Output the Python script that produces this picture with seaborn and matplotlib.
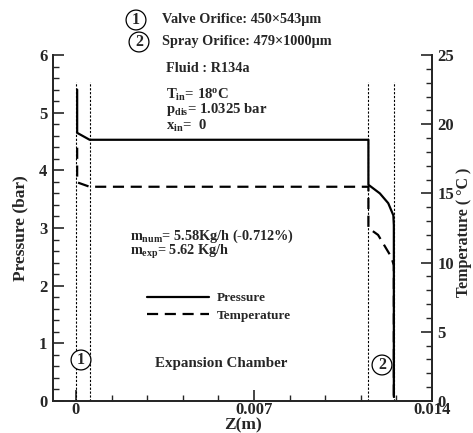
import matplotlib
matplotlib.use("Agg")
import matplotlib.pyplot as plt
import seaborn as sns
from matplotlib.lines import Line2D
from matplotlib.ticker import MultipleLocator, FuncFormatter

# Pressure along the nozzle (bar)
z_pressure = [0.00005, 0.00005, 0.00054, 0.0115, 0.0115, 0.01195, 0.01228, 0.01248, 0.0125, 0.0125]
pressure = [5.40, 4.65, 4.53, 4.53, 3.75, 3.60, 3.43, 3.22, 3.05, 0.07]

# Temperature along the nozzle (deg C)
z_temp = [0.00005, 0.00005, 0.00054, 0.0115, 0.0115, 0.01188, 0.0124, 0.0125, 0.0125]
temperature = [18.3, 15.8, 15.48, 15.48, 12.5, 12.0, 10.4, 9.8, 0.3]

# orifice boundaries (m)
boundaries = [0.0, 0.00054, 0.0115, 0.0125]
boundary_top = 5.53

W, H = 473, 433


def px(x, y):
    return x / W, 1 - y / H


def main() -> None:
    sns.set_style("ticks")
    plt.rcParams["font.family"] = ["Liberation Serif", "DejaVu Serif"]
    plt.rcParams["font.weight"] = "bold"
    plt.rcParams["axes.labelweight"] = "bold"
    plt.rcParams["mathtext.fontset"] = "custom"
    plt.rcParams["mathtext.rm"] = "Liberation Serif:bold"
    plt.rcParams["mathtext.it"] = "Liberation Serif:bold"
    plt.rcParams["mathtext.bf"] = "Liberation Serif:bold"

    fig = plt.figure(figsize=(W / 100, H / 100), dpi=100)
    ax = fig.add_axes([53 / W, 1 - 401 / H, (432 - 53) / W, (401 - 55) / H])
    ax2 = ax.twinx()

    for zb in boundaries:
        ax.plot([zb, zb], [0, boundary_top], color="black", lw=0.8, linestyle=(0, (2, 1.5)))

    sns.lineplot(x=z_pressure, y=pressure, ax=ax, sort=False, estimator=None,
                 color="black", lw=1.6)
    sns.lineplot(x=z_temp, y=temperature, ax=ax2, sort=False, estimator=None,
                 color="black", lw=1.6, linestyle=(0, (5, 3)))

    ax.set_xlim(-0.0009, 0.014)
    ax.set_ylim(0, 6)
    ax2.set_ylim(0, 25)

    ax.xaxis.set_major_locator(MultipleLocator(0.007))
    ax.xaxis.set_minor_locator(MultipleLocator(0.0014))
    ax.xaxis.set_major_formatter(FuncFormatter(lambda v, _: "0" if abs(v) < 1e-9 else f"{v:g}"))
    ax.yaxis.set_major_locator(MultipleLocator(1))
    ax.yaxis.set_minor_locator(MultipleLocator(0.2))
    ax2.yaxis.set_major_locator(MultipleLocator(5))
    ax2.yaxis.set_minor_locator(MultipleLocator(1))

    for a in (ax, ax2):
        a.spines["top"].set_visible(False)
        for s in a.spines.values():
            s.set_linewidth(1.3)
        a.tick_params(which="major", direction="in", length=8, width=1.2, labelsize=12, pad=4)
        a.tick_params(which="minor", direction="in", length=4, width=1.0)
    ax.tick_params(axis="x", pad=1)

    ax.set_xlabel("Z(m)", fontsize=12.5, labelpad=-1)
    ax.set_ylabel("Pressure (bar)", fontsize=12.5, labelpad=8)
    ax2.set_ylabel("")
    fig.text(*px(464, 232), "Temperature ( °C )", rotation=90,
             ha="center", va="center", fontsize=11.5)

    # legend
    handles = [Line2D([], [], color="black", lw=1.6),
               Line2D([], [], color="black", lw=1.6, linestyle=(0, (5, 3)))]
    ax2.legend(handles, ["Pressure", "Temperature"], loc="upper left",
               bbox_to_anchor=px(147, 292), bbox_transform=fig.transFigure,
               frameon=False, fontsize=9.5, handlelength=4.7, handletextpad=0.6,
               labelspacing=0.4, borderpad=0, borderaxespad=0)

    circ = dict(boxstyle="circle,pad=0.12", fc="white", ec="black", lw=0.9)
    fs = 10.3
    fig.text(*px(136, 20), "1", ha="center", va="center", fontsize=11.5, bbox=circ)
    fig.text(*px(139, 42), "2", ha="center", va="center", fontsize=11.5, bbox=circ)
    fig.text(*px(162, 20), "Valve Orifice: 450×543μm", ha="left", va="center", fontsize=fs)
    fig.text(*px(162, 41), "Spray Orifice: 479×1000μm", ha="left", va="center", fontsize=fs)
    fig.text(*px(166, 68), "Fluid : R134a", ha="left", va="center", fontsize=fs)
    fig.text(*px(166, 95), "T$_{in}$= 18$^{o}$C", ha="left", va="center", fontsize=fs + 0.3)
    fig.text(*px(166, 110), "p$_{dis}$= 1.0325 bar", ha="left", va="center", fontsize=fs + 0.3)
    fig.text(*px(166, 126), "x$_{in}$=  0", ha="left", va="center", fontsize=fs + 0.3)
    fig.text(*px(130, 236), "m$_{num}$= 5.58Kg/h (-0.712%)", ha="left", va="center", fontsize=fs)
    fig.text(*px(130, 252), "m$_{exp}$= 5.62 Kg/h", ha="left", va="center", fontsize=fs)
    fig.text(*px(155, 363), "Expansion Chamber", ha="left", va="center", fontsize=fs + 0.5)
    fig.text(*px(81, 360), "1", ha="center", va="center", fontsize=11.5, bbox=circ)
    fig.text(*px(382, 365), "2", ha="center", va="center", fontsize=11.5, bbox=circ)

    fig.savefig("out.png", dpi=100)
    plt.close(fig)


if __name__ == "__main__":
    main()
